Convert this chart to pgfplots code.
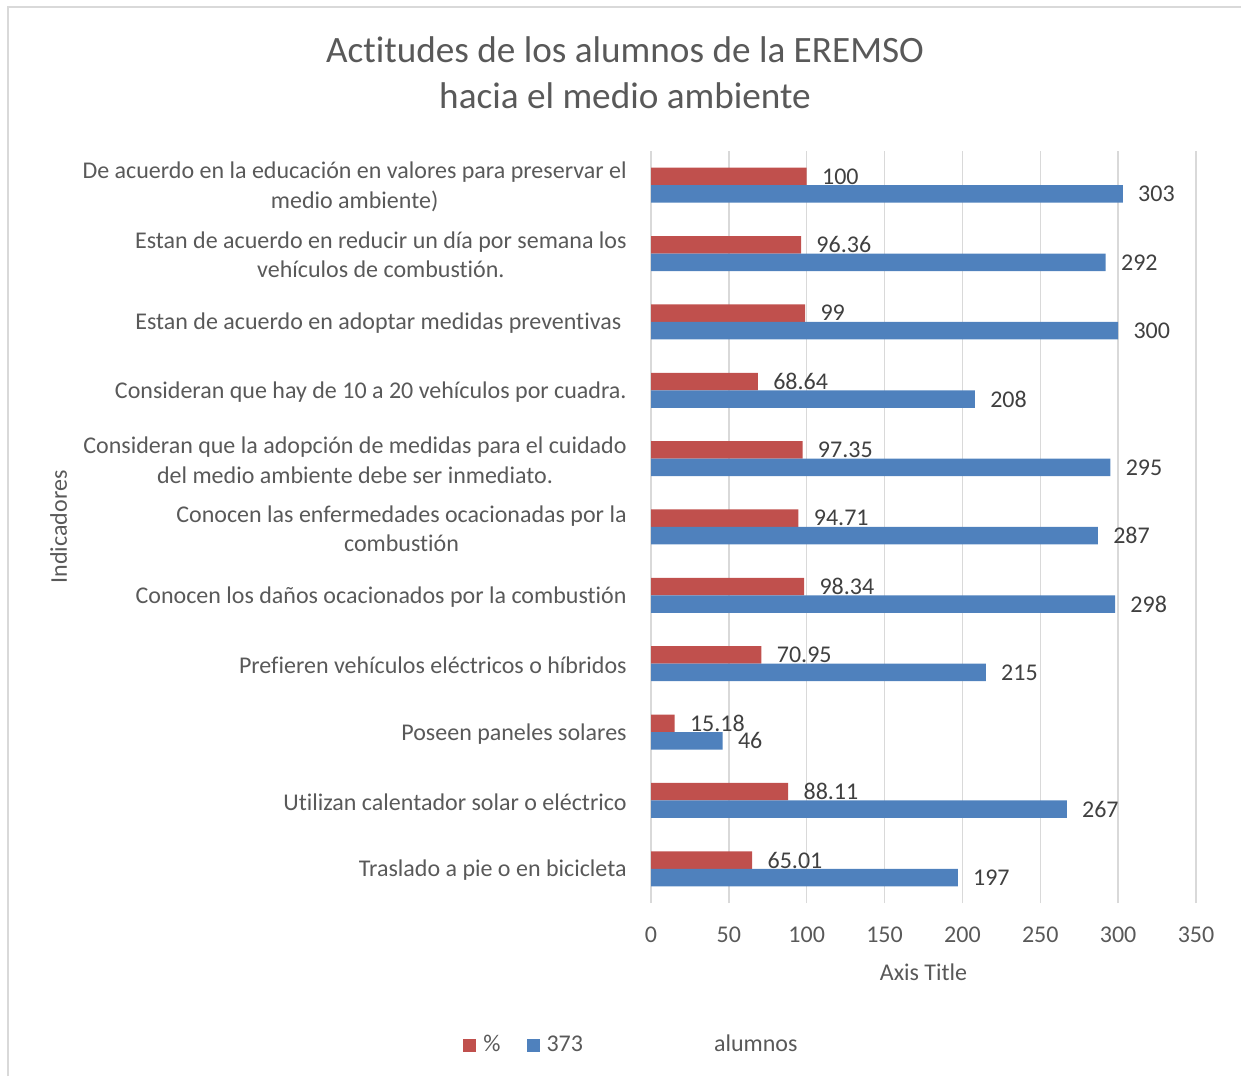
\documentclass[border=0pt]{standalone}
\usepackage{pgfplots}
\pgfplotsset{compat=1.18}
\usepackage{fontspec}
\setmainfont{Carlito}[Ligatures=NoCommon]
\definecolor{redbar}{HTML}{C0504D}
\definecolor{bluebar}{HTML}{4F81BD}
\definecolor{gridgray}{HTML}{D9D9D9}
\definecolor{txtgray}{HTML}{595959}
\definecolor{lblgray}{HTML}{404040}
\begin{document}
\begin{tikzpicture}[x=0.5pt,y=0.5pt]
\useasboundingbox (0,0) rectangle (1241,1076);
\draw[gridgray, line width=0.75pt] (8,0) -- (8,1069) -- (1241,1069);
\node[align=center, text=txtgray, font=\fontsize{18.6}{23}\selectfont] at (625,1003) {Actitudes de los alumnos de la EREMSO\\hacia el medio ambiente};
\begin{axis}[
  at={(325.5pt,86.5pt)}, anchor=south west,
  scale only axis, width=272.5pt, height=376pt,
  xbar, bar width=8.75pt,
  xmin=0, xmax=350, ymin=-0.5, ymax=10.5,
  xtick={0,50,...,350},
  ytick={0,...,10},
  yticklabels={
    Traslado a pie o en bicicleta,
    Utilizan calentador solar o eléctrico,
    Poseen paneles solares,
    Prefieren vehículos eléctricos o híbridos,
    Conocen los daños ocacionados por la combustión,
    {Conocen las enfermedades ocacionadas por la\\combustión},
    {Consideran que la adopción de medidas para el cuidado\\del medio ambiente debe ser inmediato.},
    Consideran que hay de 10 a 20 vehículos por cuadra.,
    Estan de acuerdo en adoptar medidas preventivas\ ,
    {Estan de acuerdo en reducir un día por semana los\\vehículos de combustión.},
    {De acuerdo en la educación en valores para preservar el\\medio ambiente)}
  },
  /pgf/number format/assume math mode=true,
  xmajorgrids, major grid style={draw=gridgray, line width=0.75pt},
  axis line style={draw=none},
  major tick length=0pt, tick style={draw=none},
  xticklabel style={anchor=center, yshift=-16pt, inner sep=0pt, font=\fontsize{12}{14.6}\selectfont, text=txtgray},
  yticklabel style={align=center, anchor=east, inner sep=0pt, xshift=-12pt, yshift=-0.8pt, font=\fontsize{12}{14.6}\selectfont, text=txtgray},
  xlabel={Axis Title},
  xlabel style={at={(axis description cs:0.5,-0.0918)}, anchor=center, font=\fontsize{12}{14.6}\selectfont, text=txtgray},
  ylabel={Indicadores},
  ylabel style={at={(axis description cs:-1.087,0.5)}, anchor=center, font=\fontsize{12}{14.6}\selectfont, text=txtgray},
  nodes near coords,
  every node near coord/.append style={anchor=west, inner sep=0pt, xshift=7.5pt, font=\fontsize{12}{14.6}\selectfont, text=lblgray},
  legend columns=2,
  legend style={at={(axis description cs:-0.345,-0.189)}, anchor=west, draw=none, inner sep=0pt, font=\fontsize{12}{14.6}\selectfont, text=txtgray,
    /tikz/every odd column/.append style={column sep=1.5pt},
    /tikz/every even column/.append style={column sep=11pt}},
  legend image code/.code={\fill[#1,draw=none] (0pt,-3.25pt) rectangle (6.5pt,3.25pt);},
]
\addplot[fill=redbar, draw=none, bar shift=4.375pt] coordinates {
  (65.01,0) (88.11,1) (15.18,2) (70.95,3) (98.34,4) (94.71,5)
  (97.35,6) (68.64,7) (99,8) (96.36,9) (100,10)};
\addlegendentry{\%}
\addplot[fill=bluebar, draw=none, bar shift=-4.375pt] coordinates {
  (197,0) (267,1) (46,2) (215,3) (298,4) (287,5)
  (295,6) (208,7) (300,8) (292,9) (303,10)};
\addlegendentry{373\hspace{65.5pt}alumnos}
\end{axis}
\end{tikzpicture}
\end{document}
